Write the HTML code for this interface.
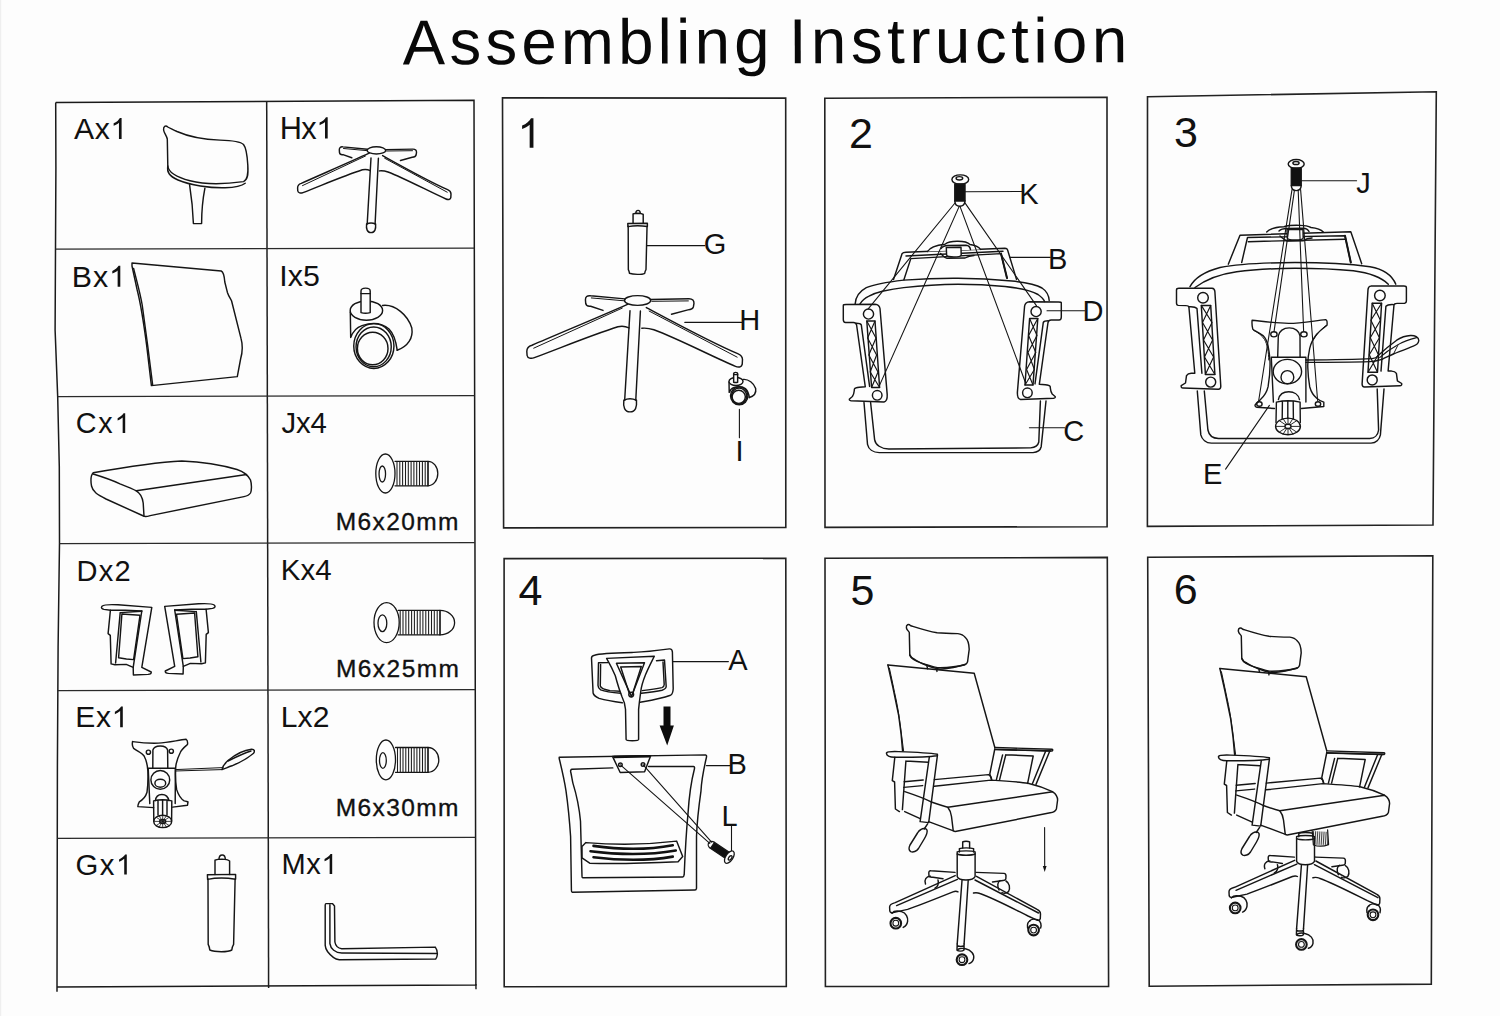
<!DOCTYPE html>
<html><head><meta charset="utf-8"><style>
html,body{margin:0;padding:0;background:#fdfdfd;}
svg .ns *{vector-effect:non-scaling-stroke;}
svg{display:block;font-family:"Liberation Sans",sans-serif;font-kerning:none;}
</style></head><body>
<svg width="1500" height="1016" viewBox="0 0 1500 1016">
<rect width="1500" height="1016" fill="#fdfdfd"/>
<rect x="0" y="0" width="1.2" height="1016" fill="#efefef"/>
<g font-size="63.50" fill="#080808" transform="rotate(-0.2 402.9 64.5)"><text x="402.78" y="64.50">A</text><text x="449.42" y="64.50">s</text><text x="485.46" y="64.50">s</text><text x="521.49" y="64.50">e</text><text x="561.10" y="64.50">m</text><text x="618.28" y="64.50">b</text><text x="657.88" y="64.50">l</text><text x="676.28" y="64.50">i</text><text x="694.67" y="64.50">n</text><text x="734.28" y="64.50">g</text></g>
<g font-size="63.50" fill="#080808" transform="rotate(-0.2 794.8 63.3)"><text x="788.94" y="63.30">I</text><text x="811.12" y="63.30">n</text><text x="850.97" y="63.30">s</text><text x="887.25" y="63.30">t</text><text x="909.43" y="63.30">r</text><text x="935.11" y="63.30">u</text><text x="974.96" y="63.30">c</text><text x="1011.24" y="63.30">t</text><text x="1033.42" y="63.30">i</text><text x="1052.06" y="63.30">o</text><text x="1091.91" y="63.30">n</text></g>
<path d="M55.7,102.5 L474,100.3 L475.9,985.1 L57,986.9" fill="none" stroke="#1a1a1a" stroke-width="1.5" stroke-linejoin="miter"/>
<path d="M55.7,102.5 L55.9,167 L55.1,330 L57.7,397 L59.3,467 L59.5,543 L58.1,647 L57.4,767 L57,991.7" fill="none" stroke="#1a1a1a" stroke-width="1.5" stroke-linejoin="miter"/>
<line x1="475.9" y1="984" x2="476" y2="989.2" stroke="#1a1a1a" stroke-width="1.4"/>
<line x1="266.7" y1="101.4" x2="268.6" y2="988" stroke="#1e1e1e" stroke-width="1.5"/>
<line x1="55.5" y1="249.1" x2="474.3" y2="248.0" stroke="#2a2a2a" stroke-width="1.25"/>
<line x1="57.7" y1="396.5" x2="474.6" y2="395.5" stroke="#2a2a2a" stroke-width="1.25"/>
<line x1="59.5" y1="543.7" x2="474.9" y2="542.5" stroke="#2a2a2a" stroke-width="1.25"/>
<line x1="57.8" y1="690.7" x2="475.3" y2="689.5" stroke="#2a2a2a" stroke-width="1.25"/>
<line x1="57.3" y1="838.3" x2="475.6" y2="837.3" stroke="#2a2a2a" stroke-width="1.25"/>
<path d="M502.5,97.9 L785.7,98.1 L785.8,527.4 L503.6,527.9 Z" fill="none" stroke="#222" stroke-width="1.6" stroke-linejoin="miter"/>
<path d="M824.8,98.3 L1107,97.2 L1107.1,526.7 L825,527.4 Z" fill="none" stroke="#222" stroke-width="1.6" stroke-linejoin="miter"/>
<path d="M1147.5,96.7 L1436.3,91.7 L1433,525 L1147.4,526.4 Z" fill="none" stroke="#222" stroke-width="1.6" stroke-linejoin="miter"/>
<path d="M504.1,558.6 L785.8,558.3 L786.3,986.5 L504.2,986.7 Z" fill="none" stroke="#222" stroke-width="1.6" stroke-linejoin="miter"/>
<path d="M825,558.3 L1107.3,557.4 L1108.6,986.4 L825.4,986.5 Z" fill="none" stroke="#222" stroke-width="1.6" stroke-linejoin="miter"/>
<path d="M1147.7,557.2 L1432.8,555.8 L1431.3,984.1 L1149.2,986.2 Z" fill="none" stroke="#222" stroke-width="1.6" stroke-linejoin="miter"/>
<g font-size="30.21" fill="#111"><text x="74.04" y="138.90">A</text><text x="94.72" y="138.90">x</text><path d="M763 0H583V1147Q518 1085 412 1023Q306 961 223 930V1104Q374 1175 487 1276Q600 1377 647 1472H763Z" transform="translate(110.35,138.90) scale(0.01475,-0.01412)"/></g>
<g font-size="30.78" fill="#111"><text x="279.67" y="138.50">H</text><text x="301.37" y="138.50">x</text><path d="M763 0H583V1147Q518 1085 412 1023Q306 961 223 930V1104Q374 1175 487 1276Q600 1377 647 1472H763Z" transform="translate(316.23,138.50) scale(0.01503,-0.01438)"/></g>
<g font-size="30.35" fill="#111"><text x="71.81" y="286.70">B</text><text x="92.94" y="286.70">x</text><path d="M763 0H583V1147Q518 1085 412 1023Q306 961 223 930V1104Q374 1175 487 1276Q600 1377 647 1472H763Z" transform="translate(108.99,286.70) scale(0.01482,-0.01418)"/></g>
<g font-size="30.35" fill="#111"><text x="279.20" y="286.20">I</text><text x="287.73" y="286.20">x</text><text x="302.99" y="286.20">5</text></g>
<g font-size="28.78" fill="#111"><text x="75.84" y="433.00">C</text><text x="98.36" y="433.00">x</text><path d="M763 0H583V1147Q518 1085 412 1023Q306 961 223 930V1104Q374 1175 487 1276Q600 1377 647 1472H763Z" transform="translate(114.48,433.00) scale(0.01405,-0.01345)"/></g>
<g font-size="29.35" fill="#111"><text x="281.54" y="432.50">J</text><text x="295.99" y="432.50">x</text><text x="310.44" y="432.50">4</text></g>
<g font-size="29.06" fill="#111"><text x="76.62" y="580.50">D</text><text x="98.74" y="580.50">x</text><text x="114.40" y="580.50">2</text></g>
<g font-size="29.49" fill="#111"><text x="280.78" y="579.80">K</text><text x="300.48" y="579.80">x</text><text x="315.26" y="579.80">4</text></g>
<g font-size="30.07" fill="#111"><text x="75.13" y="727.20">E</text><text x="95.88" y="727.20">x</text><path d="M763 0H583V1147Q518 1085 412 1023Q306 961 223 930V1104Q374 1175 487 1276Q600 1377 647 1472H763Z" transform="translate(111.60,727.20) scale(0.01468,-0.01405)"/></g>
<g font-size="30.07" fill="#111"><text x="280.73" y="726.50">L</text><text x="297.61" y="726.50">x</text><text x="312.79" y="726.50">2</text></g>
<g font-size="29.35" fill="#111"><text x="75.62" y="874.60">G</text><text x="99.82" y="874.60">x</text><path d="M763 0H583V1147Q518 1085 412 1023Q306 961 223 930V1104Q374 1175 487 1276Q600 1377 647 1472H763Z" transform="translate(115.87,874.60) scale(0.01433,-0.01371)"/></g>
<g font-size="29.06" fill="#111"><text x="281.52" y="873.90">M</text><text x="306.28" y="873.90">x</text><path d="M763 0H583V1147Q518 1085 412 1023Q306 961 223 930V1104Q374 1175 487 1276Q600 1377 647 1472H763Z" transform="translate(321.37,873.90) scale(0.01419,-0.01358)"/></g>
<g font-size="24.50" fill="#111" stroke="#111" stroke-width="0.35"><text x="335.69" y="529.50">M</text><text x="357.51" y="529.50">6</text><text x="372.55" y="529.50">x</text><text x="386.21" y="529.50">2</text><text x="401.25" y="529.50">0</text><text x="416.29" y="529.50">m</text><text x="438.11" y="529.50">m</text></g>
<g font-size="24.50" fill="#111" stroke="#111" stroke-width="0.35"><text x="335.89" y="676.60">M</text><text x="357.76" y="676.60">6</text><text x="372.85" y="676.60">x</text><text x="386.56" y="676.60">2</text><text x="401.65" y="676.60">5</text><text x="416.74" y="676.60">m</text><text x="438.61" y="676.60">m</text></g>
<g font-size="24.50" fill="#111" stroke="#111" stroke-width="0.35"><text x="335.69" y="816.40">M</text><text x="357.51" y="816.40">6</text><text x="372.55" y="816.40">x</text><text x="386.21" y="816.40">3</text><text x="401.25" y="816.40">0</text><text x="416.29" y="816.40">m</text><text x="438.11" y="816.40">m</text></g>
<g font-size="43.00" fill="#111"><path d="M763 0H583V1147Q518 1085 412 1023Q306 961 223 930V1104Q374 1175 487 1276Q600 1377 647 1472H763Z" transform="translate(517.42,147.80) scale(0.02100,-0.02009)"/></g>
<g font-size="43.00" fill="#111"><text x="849.04" y="148.20">2</text></g>
<g font-size="43.00" fill="#111"><text x="1173.96" y="146.80">3</text></g>
<g font-size="43.00" fill="#111"><text x="518.61" y="605.40">4</text></g>
<g font-size="43.00" fill="#111"><text x="850.38" y="605.20">5</text></g>
<g font-size="43.00" fill="#111"><text x="1173.82" y="604.40">6</text></g>
<g font-size="29.00" fill="#111"><text x="703.84" y="254.40">G</text></g>
<g font-size="29.00" fill="#111"><text x="739.22" y="330.40">H</text></g>
<g font-size="29.00" fill="#111"><text x="735.52" y="461.00">I</text></g>
<g font-size="29.00" fill="#111"><text x="1019.22" y="204.00">K</text></g>
<g font-size="29.00" fill="#111"><text x="1047.92" y="269.20">B</text></g>
<g font-size="29.00" fill="#111"><text x="1082.62" y="321.20">D</text></g>
<g font-size="29.00" fill="#111"><text x="1063.33" y="440.60">C</text></g>
<g font-size="29.00" fill="#111"><text x="1356.25" y="192.50">J</text></g>
<g font-size="29.00" fill="#111"><text x="1203.12" y="484.00">E</text></g>
<g font-size="29.00" fill="#111"><text x="728.34" y="670.20">A</text></g>
<g font-size="29.00" fill="#111"><text x="727.42" y="774.20">B</text></g>
<g font-size="29.00" fill="#111"><text x="721.62" y="825.50">L</text></g>
<g stroke="#151515" fill="none" stroke-linejoin="round" stroke-linecap="round" stroke-width="1.45"><path d="M167.8,127 C165.5,124.8 163.2,126.5 163.6,130 C164,133 166.5,135.5 167.3,139 L167.8,166 C168.3,172.5 178,177.5 190,180.8 C205,184.6 225,184.2 243.5,181.6 C247.6,180 248.4,175 247.8,165 C247.2,155 246,147.5 243.5,144.5 C240,141 230,140.4 220,140.1 C200,139.4 186,135.5 177,131.5 C172,129 169.5,128 167.8,127 Z"/>
<path d="M167.8,166 C166.8,172 169,176 178,180 C190,185.2 210,188.2 225,187.8 C235,187.4 242,185.8 245.2,183.2"/>
<path d="M189.6,184.8 C192,200 193,212 193.4,223.6 L201.6,223.6 C201.6,210 203,198 204.9,188.2"/></g>
<g stroke="#151515" fill="none" stroke-linejoin="round" stroke-linecap="round" stroke-width="1.45"><ellipse cx="376.4" cy="150.4" rx="9.3" ry="3.6"/>
<path d="M367.3,149.2 L343,146.9 C340.4,146.5 339.3,147.8 339.3,149.8 L339.5,152.6 C339.8,154.4 341.4,154.8 343,154.6 L351.8,157.7"/>
<path d="M385.6,149.6 L413,149.1 C415.5,149.1 416.6,150.6 416.5,152.6 L416.1,155 C415.7,156.6 414.2,157.1 412.2,157.3 L400.5,160.5"/>
<path d="M369.2,153.2 C350,162 320,175 301.3,183.4 C298.4,184.2 297.6,186 297.6,188 L297.8,191 C298.1,193 300.6,193.6 303,192.6 C325,184 345,175.5 362.4,169.8 C365.4,169 368.2,169.6 370.3,170.6"/>
<path d="M382.6,155.6 C405,168 430,182 447.6,189.6 C450,190.6 451,192 451,194 L450.8,197.6 C450.5,199.6 448,200 446,199 C430,192 405,178.5 388,172 C385,171 382.2,170.6 379.4,170.9"/>
<path d="M371,158 L367.2,224 M378.4,158.2 L375.1,224"/>
<path d="M365.5,156 L302.5,185.6 M384.6,158.2 L447.2,192.2 M366.6,150.6 L343.5,148.5 M386.5,151 L412.5,150.7" stroke-width="1"/>
<path d="M366.6,224 C366,229 367.2,232.6 371,232.6 C375,232.6 376,229 375.6,224 C373,222.8 369,222.8 366.6,224 Z"/></g>
<g stroke="#151515" fill="none" stroke-linejoin="round" stroke-linecap="round" stroke-width="1.45"><path d="M132,263 L221.2,271 C223,271.8 224.2,274 224.8,282 L227.4,292.4 C229,297 231,299 231.6,301 L241,338.4 C242.6,344 242.6,352 240.6,359 L237.3,376.6 L151.4,385.6 L146.6,345 C144,325 141,305 137.2,290 L132,266 Z"/>
<path d="M133.6,268.4 C136.4,280 140,292 142.2,305 L147.6,345 L152.6,384.6"/></g>
<g stroke="#151515" fill="none" stroke-linejoin="round" stroke-linecap="round" stroke-width="1.45"><path d="M382.5,305.5 C395,304 408,315 411.8,328 C413.4,338 408,346.5 397.2,350.2"/>
<path d="M350.3,312 L350.7,337.6 C353,331 357,327.2 362,325.6 C372,322.2 382,323 389,329 C394,334 396,341 397.2,350.2"/>
<ellipse cx="366.4" cy="310.6" rx="16.2" ry="9.7" fill="#fdfdfd"/>
<path d="M361,312.6 L361,291 C361,288.6 363,288.1 365.6,288.1 C368.2,288.1 370.2,288.6 370.2,291 L370.2,312.6 C367,313.6 364,313.6 361,312.6 Z" fill="#fdfdfd"/>
<path d="M361,293.6 L370.2,293.6"/>
<ellipse cx="373.85" cy="346" rx="20.1" ry="22.4"/>
<ellipse cx="373.65" cy="346.8" rx="17.6" ry="19.9"/>
<ellipse cx="372.7" cy="348.55" rx="15.3" ry="16.25"/></g>
<g stroke="#151515" fill="none" stroke-linejoin="round" stroke-linecap="round" stroke-width="1.45"><path d="M93.2,472.8 C120,468 160,462 181.8,461 C205,462 225,466 237,469.5 C243,471.5 248,475 250.5,480 C252,485 251.5,491 250.5,493 C249,495.5 247,496 244,496.6 L150.2,515.6 C147,516.6 145,517 143.5,516 L106,499 C97,494.5 93,492 91.5,486 C90.5,480 91,475 93.2,472.8 Z"/>
<path d="M93.2,474 C103,477 112,480.2 120,483.8 C127,486.6 133,489 136.3,490.8 L246.6,474.5"/>
<path d="M136.3,490.8 C140,493 142.6,498 143.2,503 L144,516.2"/></g>
<g stroke="#151515" fill="none" stroke-linejoin="round" stroke-linecap="round" stroke-width="1.45"><path d="M102,606.2 C104,604.6 112,604.5 118,604.8 L151.8,607.4 L141.8,667.4 L151.2,672 C151.6,673.4 150.6,674.2 148,674.4 L133.4,675 L133.2,667.4 L126.2,664.4 L114.9,664.8 L111.1,663.9 L110.3,635.4 L108.1,633.6 L110.4,610.2 L104,609.4 C101.6,609 100.8,607.6 102,606.2 Z"/>
<path d="M110.4,610.2 L125.3,610.3 L141.8,611"/>
<path d="M120.2,612.6 L141.6,611.2 M120.2,612.6 L115.6,663 M121.9,614 L140,615.3 L133.6,659.6 L126.4,659 L118.6,657.8 L121.9,614 Z"/>
<path d="M141.8,611 L133.2,667.4"/></g>
<g stroke="#151515" fill="none" stroke-linejoin="round" stroke-linecap="round" stroke-width="1.45" transform="translate(316.5,-1) scale(-1,1)"><path d="M102,606.2 C104,604.6 112,604.5 118,604.8 L151.8,607.4 L141.8,667.4 L151.2,672 C151.6,673.4 150.6,674.2 148,674.4 L133.4,675 L133.2,667.4 L126.2,664.4 L114.9,664.8 L111.1,663.9 L110.3,635.4 L108.1,633.6 L110.4,610.2 L104,609.4 C101.6,609 100.8,607.6 102,606.2 Z"/>
<path d="M110.4,610.2 L125.3,610.3 L141.8,611"/>
<path d="M120.2,612.6 L141.6,611.2 M120.2,612.6 L115.6,663 M121.9,614 L140,615.3 L133.6,659.6 L126.4,659 L118.6,657.8 L121.9,614 Z"/>
<path d="M141.8,611 L133.2,667.4"/></g>
<g stroke="#151515" fill="none" stroke-linejoin="round" stroke-linecap="round" stroke-width="1.45"><path d="M132.6,741.6 C140,742.6 150,743.4 158.4,743.1 C168,742.6 178,740.2 186.1,739.3 C187.6,740.5 187.8,742.5 187.5,744.5 C184,747.5 181.5,749.5 180.4,752.2 C177.5,758 175.8,763 175.6,768.4 C175.2,776 175.6,783 176.6,789.4 C178.4,795 181,799 184.2,800.9 C186,801.4 187.5,801.6 188,801.8 L187.5,805.2 L172.7,807.1"/>
<path d="M132.6,741.6 C132,744 132.4,746.5 133.6,748.4 C138,751.5 142,753 144.1,756 C146.5,760.5 147.6,766 147.9,771.3 C148.2,780 147.8,786.5 147,792.3 C145.6,797 142.6,800 139.3,801.8 C138.4,803.5 137.8,805 137.9,806.6 L153.6,807.6"/>
<path d="M152.8,768.2 L152.9,750 C153.5,747.3 156.5,745.9 160.3,745.9 C164.2,745.9 167,747.3 167.6,750 L167.8,768.2"/>
<circle cx="148.4" cy="752.2" r="2.1"/><circle cx="171.3" cy="751.2" r="2.1"/>
<path d="M148.2,768.2 L175.4,768.2 L175.2,803.6 M148.2,768.2 L149.8,803.6"/>
<circle cx="160.3" cy="779.9" r="9.4"/>
<ellipse cx="160.3" cy="783.2" rx="5.4" ry="4"/>
<path d="M155.5,800.6 C155.8,796.8 158,794.4 161.9,794.4 C165.6,794.4 168.2,796.8 168.8,800.6"/>
<path d="M153.6,800.9 L153.8,820.6 M171.8,800.9 L171.6,820.6 M153.6,800.9 C159,799.4 166,799.4 171.8,800.9 M158,801 L158,815 M162.6,800.6 L162.6,815 M167,801 L167,815"/>
<ellipse cx="162.7" cy="821.4" rx="9" ry="6.2"/>
<path d="M162.7,815.8 L162.7,827 M154.4,821.4 L171,821.4 M156.4,817.4 L169,825.4 M156.4,825.4 L169,817.4 M159,815.8 L166.4,827 M159,827 L166.4,815.8" stroke-width="0.8"/>
<ellipse cx="162.7" cy="821.4" rx="3" ry="2"/>
<path d="M175.4,769.6 L223,767.6 M175.4,771 L222,769.6" stroke-width="1"/>
<path d="M222,769.6 C222.5,767 224,764 228,760.5 C236,754 245,750 251.5,749.3 C254.5,749.2 255,751 253.6,753.2 C248,758 240,762.5 232,765.8 C228,767.2 225,768.6 222,769.6 Z"/>
<path d="M228,761 C235,757.5 243,753.5 251,751"/></g>
<g stroke="#151515" fill="none" stroke-linejoin="round" stroke-linecap="round" stroke-width="1.45"><path d="M219,859.3 C219,856.3 220.5,854.9 222.2,854.9 C224,854.9 225.3,856.3 225.3,859.3"/>
<path d="M215,874.4 L215,860.2 C217,859.2 219,859.1 222,859.1 C226,859.2 228,859.6 229.6,861 L229.6,874.4"/>
<path d="M207.4,874.8 L235.6,874.4 L235.6,879 M207.4,874.8 L207.6,879.4 C216,877.6 226,877.6 235.6,879.2"/>
<path d="M208,879 L208.2,944.4 C209,946 209.6,947.4 209.8,950 C215,952.2 228,952.2 231.8,950 C232,947.6 232.6,946 233.6,944.4 L235.1,879.2"/></g>
<g stroke="#151515" fill="none" stroke-linejoin="round" stroke-linecap="round" stroke-width="1.3"><path d="M395,461.3 L428,461.3 A9.800000000000011,12.25 0 0 1 428,485.8 L395,485.8"/>
<path d="M397.0,461.9 L397.0,485.2 M399.8,461.9 L399.8,485.2 M402.6,461.9 L402.6,485.2 M405.5,461.9 L405.5,485.2 M408.3,461.9 L408.3,485.2 M411.1,461.9 L411.1,485.2 M413.9,461.9 L413.9,485.2 M416.7,461.9 L416.7,485.2 M419.5,461.9 L419.5,485.2 M422.4,461.9 L422.4,485.2 M425.2,461.9 L425.2,485.2 M428.0,461.9 L428.0,485.2 " stroke-width="1.05" stroke="#1c1c1c"/>
<path d="M428,461.3 L428,485.8" />
<ellipse cx="385.4" cy="473.5" rx="9.6" ry="19.5" fill="#fdfdfd"/>
<ellipse cx="382.3" cy="474" rx="3.25" ry="8"/></g>
<g stroke="#151515" fill="none" stroke-linejoin="round" stroke-linecap="round" stroke-width="1.3"><path d="M398.2,610.4 L440,610.4 A14.600000000000023,12.25 0 0 1 440,634.9 L398.2,634.9"/>
<path d="M400.2,611.0 L400.2,634.3 M403.0,611.0 L403.0,634.3 M405.9,611.0 L405.9,634.3 M408.7,611.0 L408.7,634.3 M411.6,611.0 L411.6,634.3 M414.4,611.0 L414.4,634.3 M417.3,611.0 L417.3,634.3 M420.1,611.0 L420.1,634.3 M422.9,611.0 L422.9,634.3 M425.8,611.0 L425.8,634.3 M428.6,611.0 L428.6,634.3 M431.5,611.0 L431.5,634.3 M434.3,611.0 L434.3,634.3 M437.2,611.0 L437.2,634.3 M440.0,611.0 L440.0,634.3 " stroke-width="1.05" stroke="#1c1c1c"/>
<path d="M440,610.4 L440,634.9" />
<ellipse cx="386.6" cy="622.6" rx="12.6" ry="20" fill="#fdfdfd"/>
<ellipse cx="382.4" cy="623.2" rx="4.4" ry="8.4"/></g>
<g stroke="#151515" fill="none" stroke-linejoin="round" stroke-linecap="round" stroke-width="1.3"><path d="M395.5,747.5 L428,747.5 A10.800000000000011,12.399999999999977 0 0 1 428,772.3 L395.5,772.3"/>
<path d="M397.5,748.1 L397.5,771.7 M400.3,748.1 L400.3,771.7 M403.0,748.1 L403.0,771.7 M405.8,748.1 L405.8,771.7 M408.6,748.1 L408.6,771.7 M411.4,748.1 L411.4,771.7 M414.1,748.1 L414.1,771.7 M416.9,748.1 L416.9,771.7 M419.7,748.1 L419.7,771.7 M422.5,748.1 L422.5,771.7 M425.2,748.1 L425.2,771.7 M428.0,748.1 L428.0,771.7 " stroke-width="1.05" stroke="#1c1c1c"/>
<path d="M428,747.5 L428,772.3" />
<ellipse cx="385.9" cy="759.9" rx="9.6" ry="19.9" fill="#fdfdfd"/>
<ellipse cx="382.9" cy="760.5" rx="3.4" ry="7.8"/></g>
<g stroke="#151515" fill="none" stroke-linejoin="round" stroke-linecap="round" stroke-width="1.45"><path d="M326,903.6 L332.4,903.6 L334.5,906 L334.9,942 C335.5,945.5 338,948.3 341.7,948.8 L435.3,947.1 C436.8,949 437.5,951 437.4,954 C437.2,956.5 436.6,958 435.7,959 L339.2,959.8 C334,959 330.5,955.5 327.5,951.5 C325.8,949 325.3,947 325.2,945.4 L325.2,905 C325.3,904 325.6,903.6 326,903.6 Z"/>
<path d="M329.9,904.8 L329.9,943.7 C330.5,948.8 335.5,953 341.7,953 L436.5,953.4"/></g>
<g stroke="#151515" fill="none" stroke-linejoin="round" stroke-linecap="round" stroke-width="1.45" transform="translate(628.2,210.4) scale(0.695,0.661) translate(-208,-854.9)" class="ns"><path d="M219,859.3 C219,856.3 220.5,854.9 222.2,854.9 C224,854.9 225.3,856.3 225.3,859.3"/>
<path d="M215,874.4 L215,860.2 C217,859.2 219,859.1 222,859.1 C226,859.2 228,859.6 229.6,861 L229.6,874.4"/>
<path d="M207.4,874.8 L235.6,874.4 L235.6,879 M207.4,874.8 L207.6,879.4 C216,877.6 226,877.6 235.6,879.2"/>
<path d="M208,879 L208.2,944.4 C209,946 209.6,947.4 209.8,950 C215,952.2 228,952.2 231.8,950 C232,947.6 232.6,946 233.6,944.4 L235.1,879.2"/></g>
<g stroke="#151515" fill="none" stroke-linejoin="round" stroke-linecap="round" stroke-width="1.45" transform="translate(637.6,300.5) scale(1.406,1.355) translate(-376.4,-150.4)" class="ns"><ellipse cx="376.4" cy="150.4" rx="9.3" ry="3.6"/>
<path d="M367.3,149.2 L343,146.9 C340.4,146.5 339.3,147.8 339.3,149.8 L339.5,152.6 C339.8,154.4 341.4,154.8 343,154.6 L351.8,157.7"/>
<path d="M385.6,149.6 L413,149.1 C415.5,149.1 416.6,150.6 416.5,152.6 L416.1,155 C415.7,156.6 414.2,157.1 412.2,157.3 L400.5,160.5"/>
<path d="M369.2,153.2 C350,162 320,175 301.3,183.4 C298.4,184.2 297.6,186 297.6,188 L297.8,191 C298.1,193 300.6,193.6 303,192.6 C325,184 345,175.5 362.4,169.8 C365.4,169 368.2,169.6 370.3,170.6"/>
<path d="M382.6,155.6 C405,168 430,182 447.6,189.6 C450,190.6 451,192 451,194 L450.8,197.6 C450.5,199.6 448,200 446,199 C430,192 405,178.5 388,172 C385,171 382.2,170.6 379.4,170.9"/>
<path d="M371,158 L367.2,224 M378.4,158.2 L375.1,224"/>
<path d="M365.5,156 L302.5,185.6 M384.6,158.2 L447.2,192.2 M366.6,150.6 L343.5,148.5 M386.5,151 L412.5,150.7" stroke-width="1"/>
<path d="M366.6,224 C366,229 367.2,232.6 371,232.6 C375,232.6 376,229 375.6,224 C373,222.8 369,222.8 366.6,224 Z"/></g>
<g stroke="#151515" fill="none" stroke-linejoin="round" stroke-linecap="round" stroke-width="1.45" transform="translate(728.9,372.4) scale(0.433,0.404) translate(-350,-288.1)" class="ns"><path d="M382.5,305.5 C395,304 408,315 411.8,328 C413.4,338 408,346.5 397.2,350.2"/>
<path d="M350.3,312 L350.7,337.6 C353,331 357,327.2 362,325.6 C372,322.2 382,323 389,329 C394,334 396,341 397.2,350.2"/>
<ellipse cx="366.4" cy="310.6" rx="16.2" ry="9.7" fill="#fdfdfd"/>
<path d="M361,312.6 L361,291 C361,288.6 363,288.1 365.6,288.1 C368.2,288.1 370.2,288.6 370.2,291 L370.2,312.6 C367,313.6 364,313.6 361,312.6 Z" fill="#fdfdfd"/>
<path d="M361,293.6 L370.2,293.6"/>
<ellipse cx="373.85" cy="346" rx="20.1" ry="22.4"/>
<ellipse cx="373.65" cy="346.8" rx="17.6" ry="19.9"/>
<ellipse cx="372.7" cy="348.55" rx="15.3" ry="16.25"/></g>
<g stroke="#151515" fill="none" stroke-linejoin="round" stroke-linecap="round" stroke-width="1.1"><path d="M646.6,245.6 L704.8,245.6 M684.8,322.4 L741.6,322.4 M739.4,409.3 L739.4,437.8"/></g>
<g stroke="#151515" fill="none" stroke-linejoin="round" stroke-linecap="round" stroke-width="1.45"><path d="M855.1,304.2 C855.5,297 859,291.5 866.3,287.6 C875,284 888,282 903.7,280.1 C925,278.6 945,278.2 958,278.3 C975,278.4 995,279.4 1012,281 C1025,282.4 1036,284.5 1042,288 C1046.5,291 1048.8,295 1049.2,300.5"/>
<path d="M859.9,304.2 C862,300.5 865,297.8 869,296.1 C873,294 877,292.6 882.3,291.3 C890,289.6 896,288.5 903.7,287.6 C920,285.8 940,284.4 958,284.2 C975,284.2 990,285 1005,286.5 C1020,288.2 1032,291 1038,294.5 C1041.5,297 1043.6,299 1044.6,301.5"/>
<path d="M864,402.5 L867.5,444.3 C868.5,449 873,452.4 879.3,452.6 L1033,452.6 C1037.5,452.2 1040.5,449.5 1041.2,446.7 L1046,401"/>
<path d="M870.6,402.5 L874.6,439.6 C875.5,445 881,448.8 888.8,449 L1030.6,447.9 C1035,447.5 1038,445.5 1038.8,442 L1040.4,401"/></g>
<g stroke="#151515" fill="none" stroke-linejoin="round" stroke-linecap="round" stroke-width="1.45"><path d="M893.5,279.4 L902.1,253.6 C902.8,252.6 904,252.3 906,252.2 L1005,248.3 C1006.4,248.3 1007.3,249 1007.6,250 L1016.5,279.4"/>
<path d="M903.9,279.8 L910.8,258.6 L1001,253.6 L1007,278.1"/>
<path d="M906,256 L1003,251.3"/>
<path d="M1001,253.6 L1007,278.1" stroke-width="2"/>
<path d="M927.5,251.5 C930,247 938,245 945,244.2 C948,241.8 953,241.2 958,241.3 C964,241.3 968,242.5 970,244.5 C975,245.2 979,247 980.5,249.5" fill="#fdfdfd"/>
<path d="M941,248.5 C943,246 945.5,245.5 948,245.5 L966,245.3 C968.5,245.5 970,247 970.5,249.5"/>
<path d="M946.3,247.5 L961,247.2 L961.2,255 C961,256.5 959,257 954,257 C949,257 947,256.5 946.6,255 Z" fill="#fdfdfd"/>
<path d="M940.5,253.5 C943,255.5 944.5,257.8 947,258.3 L965,258 C967.5,256.5 970,255.6 974,255.5"/></g>
<g stroke="#151515" fill="none" stroke-linejoin="round" stroke-linecap="round" stroke-width="1.45"><path d="M843.3,306 C843,304.8 844,304.4 846,304.4 L875,304.2 C878,304.4 879.6,306 880,308.5 L887.2,394.6 C887.4,398.5 886.5,401.5 884,402 L851,400.8 C849.5,400.6 849,399.8 849.5,399 L852.4,396.5 C853.5,395 854,393 854.2,391 L854.4,389 C855,388 857,387.5 859.3,387.3 L865.3,386.8 L856.6,325 C856.2,323.2 855,322.4 853.5,322.4 L845.5,322.4 C844,322.4 843.3,321 843.3,319.5 Z"/>
<path d="M856.4,323.2 C858.5,323.2 860.6,323.6 861.3,324.8 L869.6,386.4"/>
<path d="M866.8,321 L875,321 L879.6,387.5 L871.6,387.5 Z"/>
<path d="M866.8,321 L876,338 L868.8,355 L878,372 L871.6,387.5 M875,321 L867.6,338 L876.6,355 L870.2,372 L879.6,387.5" stroke-width="1.15"/>
<circle cx="868.5" cy="314" r="5.1"/><circle cx="877.2" cy="395.3" r="4.8"/></g>
<g stroke="#151515" fill="none" stroke-linejoin="round" stroke-linecap="round" stroke-width="1.45" transform="translate(1904.6,-2.5) scale(-1,1)"><path d="M843.3,306 C843,304.8 844,304.4 846,304.4 L875,304.2 C878,304.4 879.6,306 880,308.5 L887.2,394.6 C887.4,398.5 886.5,401.5 884,402 L851,400.8 C849.5,400.6 849,399.8 849.5,399 L852.4,396.5 C853.5,395 854,393 854.2,391 L854.4,389 C855,388 857,387.5 859.3,387.3 L865.3,386.8 L856.6,325 C856.2,323.2 855,322.4 853.5,322.4 L845.5,322.4 C844,322.4 843.3,321 843.3,319.5 Z"/>
<path d="M856.4,323.2 C858.5,323.2 860.6,323.6 861.3,324.8 L869.6,386.4"/>
<path d="M866.8,321 L875,321 L879.6,387.5 L871.6,387.5 Z"/>
<path d="M866.8,321 L876,338 L868.8,355 L878,372 L871.6,387.5 M875,321 L867.6,338 L876.6,355 L870.2,372 L879.6,387.5" stroke-width="1.15"/>
<circle cx="868.5" cy="314" r="5.1"/><circle cx="877.2" cy="395.3" r="4.8"/></g>
<g stroke="#151515" fill="none" stroke-linejoin="round" stroke-linecap="round" stroke-width="1.45"><ellipse cx="960.3" cy="179.5" rx="8.4" ry="4.65"/><ellipse cx="959.4" cy="178.3" rx="3.3" ry="1.7"/>
<path d="M954.8,184 L965,184 L965,201 L954.8,201 Z" fill="#111"/>
<path d="M954.8,201 C955,204.5 957,206.3 959.8,206.3 C962.4,206.3 964.6,204.5 965,201"/></g>
<g stroke="#151515" fill="none" stroke-linejoin="round" stroke-linecap="round" stroke-width="1.1"><path d="M955,203 L868.2,308.8 M959.2,206.4 L879.4,385.6 M960,206.4 L1025.6,383 M964.6,202.4 L1036.4,305.6"/>
<path d="M965,191.7 L1021.6,191.5 M1010,257.4 L1050.2,257.4 M1047,310.8 L1084.6,310.8 M1029.4,427.8 L1064.6,427.8"/></g>
<g stroke="#151515" fill="none" stroke-linejoin="round" stroke-linecap="round" stroke-width="1.45"><path d="M1190,286.7 C1195,277 1207,271 1220,267.5 C1240,263.5 1270,262.6 1295,262.5 C1320,262.5 1350,264 1370,266.7 C1383,269 1392,275 1395.8,284.2"/>
<path d="M1195,287.5 C1205,280 1220,274 1236.7,271.7 C1255,269.3 1275,268.4 1295,268.3 C1320,268.3 1340,269.5 1353.3,270.8 C1370,273 1382,278 1388.3,284.2"/>
<path d="M1197.3,391 L1200.8,434.9 C1202,439.5 1206,443 1211.4,443.1 L1371,443.1 C1376,443 1379.5,439.5 1380.4,434.9 L1384,389"/>
<path d="M1204.3,391 L1207.9,430 C1209,435.5 1213,438.4 1218.5,438.4 L1369.8,438.4 C1374.5,438.4 1378,435 1378.6,430 L1377.2,389"/>
<path d="M1228.3,264.2 L1240,235.3 L1350.8,231.7 L1361.7,263.7"/>
<path d="M1241.7,262.5 L1247.5,237.5 L1345,235.8 L1350.8,262.5"/>
<path d="M1345,235.8 L1350.8,262.5" stroke-width="2"/>
<path d="M1248.3,241.7 L1345,239.2"/>
<path d="M1266.7,232 C1270,228.5 1278,227 1284,226.8 C1288,225.5 1294,225.2 1300,225.4 C1306,225.5 1309,226.5 1311,227.5 C1316,228 1321,229.5 1323.3,232" fill="#fdfdfd"/>
<path d="M1279,231 C1281,229 1284,228.5 1287,228.5 L1303,228.3 C1306,228.5 1308,229.5 1309,231.5"/>
<path d="M1287,229.5 L1303,229.2 L1303.2,238 C1303,239.5 1300,240 1295,240 C1290,240 1287.5,239.5 1287.3,238 Z" fill="#fdfdfd"/>
<path d="M1280,236 C1282.5,238 1284.5,240.5 1287.5,241 L1303,240.8 C1305.5,239 1308,238 1312,238"/></g>
<g stroke="#151515" fill="none" stroke-linejoin="round" stroke-linecap="round" stroke-width="1.45"><path d="M1176.5,290 C1176.5,288.8 1177.5,288.3 1179,288.3 L1212,288.3 C1213.8,288.4 1214.8,289.8 1214.9,291.8 L1220.8,386.3 C1220.8,388.2 1219.8,389.2 1218.4,389.2 L1183,388 C1181.5,388 1181,387 1181.2,385.7 L1185.5,383 L1186.5,375.6 C1187.5,374 1189,373.4 1191.3,373.3 L1194.8,373.3 L1188.9,307 C1188.6,306 1187.5,305.6 1186.5,305.6 L1178.3,305.4 C1177,305.3 1176.5,304.5 1176.5,303 Z"/>
<path d="M1189,306.8 C1192,306.6 1195.5,306.8 1197,308.5 L1201.9,373.3"/>
<path d="M1201.3,305.4 L1210.7,305.4 L1214.9,374.5 L1205.4,374.5 Z"/>
<path d="M1201.3,305.4 L1212,322.5 L1203.5,340 L1213.6,357 L1205.4,374.5 M1210.7,305.4 L1202.5,322.5 L1212.6,340 L1204.5,357 L1214.9,374.5" stroke-width="1.15"/>
<circle cx="1203" cy="297.7" r="5.3"/><circle cx="1210.7" cy="382.1" r="5"/></g>
<g stroke="#151515" fill="none" stroke-linejoin="round" stroke-linecap="round" stroke-width="1.45" transform="translate(2582.9,-2.2) scale(-1,1)"><path d="M1176.5,290 C1176.5,288.8 1177.5,288.3 1179,288.3 L1212,288.3 C1213.8,288.4 1214.8,289.8 1214.9,291.8 L1220.8,386.3 C1220.8,388.2 1219.8,389.2 1218.4,389.2 L1183,388 C1181.5,388 1181,387 1181.2,385.7 L1185.5,383 L1186.5,375.6 C1187.5,374 1189,373.4 1191.3,373.3 L1194.8,373.3 L1188.9,307 C1188.6,306 1187.5,305.6 1186.5,305.6 L1178.3,305.4 C1177,305.3 1176.5,304.5 1176.5,303 Z"/>
<path d="M1189,306.8 C1192,306.6 1195.5,306.8 1197,308.5 L1201.9,373.3"/>
<path d="M1201.3,305.4 L1210.7,305.4 L1214.9,374.5 L1205.4,374.5 Z"/>
<path d="M1201.3,305.4 L1212,322.5 L1203.5,340 L1213.6,357 L1205.4,374.5 M1210.7,305.4 L1202.5,322.5 L1212.6,340 L1204.5,357 L1214.9,374.5" stroke-width="1.15"/>
<circle cx="1203" cy="297.7" r="5.3"/><circle cx="1210.7" cy="382.1" r="5"/></g>
<g stroke="#151515" fill="none" stroke-linejoin="round" stroke-linecap="round" stroke-width="1.4"><path d="M1274.5,408.5 L1256.6,407.2 C1255,406.5 1254.8,405.5 1255.3,404.6 C1257,402.5 1259,401 1260.5,399.5 C1264.5,396 1267,391.5 1268.1,386.7 C1269.5,378 1270.3,369 1270,361.2 C1269.6,355 1269,350 1268.1,345.8 C1267,341 1265.5,338 1263,335.6 C1259.5,332.6 1255,331 1252.8,329.2 C1252,326 1251.8,323 1252.1,320.2 C1264,321.5 1276,323.2 1288.6,323.4 C1301,323.4 1313,321 1325.7,319.6 C1327,319.8 1327.4,321.5 1327,325.3 C1323,328.5 1319.5,331 1316.7,334.3 C1313,339 1310.8,343.5 1309.7,348.4 C1308.2,355 1307.6,361 1307.8,367.5 C1308,374 1308.6,380.5 1309.7,386.7 C1311,391.5 1313.5,395.5 1316.7,398.2 C1318.8,400 1321.2,401.4 1323.8,402.1 L1323.8,406.5 L1301.4,408.5"/>
<path d="M1253.6,330.4 C1258,332.4 1262,335.4 1264.6,339.6 C1267.4,344.5 1268.6,352 1268.8,360 M1325.6,325.8 C1321,329.5 1316.5,334 1313.2,340" stroke-width="1"/>
<ellipse cx="1273.9" cy="334.3" rx="3.2" ry="2.6"/><ellipse cx="1303.9" cy="334.3" rx="3.2" ry="2.6"/>
<ellipse cx="1259.4" cy="404" rx="2.7" ry="2.3"/><ellipse cx="1318" cy="404" rx="2.7" ry="2.3"/>
<path d="M1277.7,356.9 L1278.3,336 C1279,331 1283.5,327.9 1289.2,327.9 C1295,327.9 1299.4,331 1300,336 L1300.1,356.9"/>
<path d="M1271.3,357.3 L1305.9,357.3 L1305.9,402.1 M1271.3,357.3 L1273.4,402.1"/>
<ellipse cx="1287.4" cy="371.6" rx="14.2" ry="12.2"/>
<ellipse cx="1287.4" cy="377.2" rx="6.4" ry="6.6"/>
<path d="M1278.4,399.6 C1279.5,394.5 1283.5,391.8 1288.8,391.8 C1294,391.8 1298.5,394.5 1299.5,399.6"/>
<path d="M1276.4,402.1 C1283,400.6 1293,400.6 1300.1,402.1 M1276.4,402.1 L1276,422.6 M1300.1,402.1 L1300.3,422.6 M1282.4,402 L1282.2,419 M1287.8,401.5 L1287.8,418.5 M1293.2,401.8 L1293.4,419"/>
<ellipse cx="1288" cy="426.4" rx="12.4" ry="8.3"/>
<path d="M1288,418.2 L1288,434.6 M1275.8,426.4 L1300.2,426.4 M1279.2,420.6 L1296.8,432.2 M1279.2,432.2 L1296.8,420.6 M1283.2,418.8 L1292.8,434 M1283.2,434 L1292.8,418.8" stroke-width="0.9"/>
<ellipse cx="1288" cy="426.4" rx="3" ry="2.1" fill="#fdfdfd"/>
<path d="M1305.9,360 C1330,359.8 1355,359.4 1372,358.6 C1375,358.4 1377,357.4 1378.2,355.5 M1305.9,362.4 C1330,362.3 1355,362 1370,361.6 C1375,361.4 1379,360.2 1382,359.3"/>
<path d="M1378.2,355.5 C1383,351 1390,345 1396.7,340.2 C1401,337.4 1406,335.7 1410.5,335.5 C1415,335.3 1418.8,337.3 1418.8,340.5 C1418.6,343 1416.5,345 1413.3,346.2 C1406,349 1399,351.6 1393.3,354 C1389,356 1385.5,357.8 1382,359.3"/>
<path d="M1379.6,357.6 C1384,353.6 1390,349 1396.7,345.4 C1402,342.2 1409,339.3 1416.6,337.6" stroke-width="1.1"/>
<path d="M1393.5,354 L1398,345" stroke-width="1"/></g>
<g stroke="#151515" fill="none" stroke-linejoin="round" stroke-linecap="round" stroke-width="1.45">
<ellipse cx="1296.2" cy="164" rx="8" ry="4.5"/><ellipse cx="1296" cy="163" rx="3.1" ry="1.6"/>
<path d="M1291.3,168 L1301.2,168 L1301.2,185.6 L1291.3,185.6 Z" fill="#111"/>
<path d="M1291.3,185.6 C1291.5,188.8 1293.5,190.6 1296.2,190.6 C1299,190.6 1301,188.8 1301.2,185.6"/></g>
<g stroke="#151515" fill="none" stroke-linejoin="round" stroke-linecap="round" stroke-width="1.1"><path d="M1292,189.6 L1258.7,400.5 M1294.4,190.4 L1274,331.8 M1298.2,190.4 L1303.6,330.8 M1300.6,189.6 L1317.6,400.5"/>
<path d="M1301.2,180.7 L1356.6,180.7 M1269.4,405.4 L1225.6,469.1"/></g>
<g stroke="#151515" fill="none" stroke-linejoin="round" stroke-linecap="round" stroke-width="1.45"><path d="M622.3,702.8 C613,701.5 605,700 599.1,698.4 C596,697 593.6,695 593.1,693 L591.5,658 C591.5,656.5 592.5,655.5 594.5,655.2 C600,653.2 610,653 633.7,652.4 C645,652 660,650.2 669.4,648.9 C671.5,648.8 672.3,650 672.4,652 L673.2,688.7 C673,692.5 672,694.5 670.5,695.2 C660,699 650,700.5 640.2,702.2"/>
<path d="M620.7,693.2 C612,692.5 605,691.5 600.7,689.8 C598.8,688.5 598,686.8 598,685.5 L598.5,662.7 L608,662.6 M656.5,660.8 L664.5,660 L666.2,686.5 C666,688.5 664.5,689.5 662,690.3 C656,691.8 648,692.6 641.3,693.2"/>
<path d="M600.6,664.5 L600.3,686 C601,688.2 604,689.6 610,690.6 L619.8,691.2 M642.2,690.6 C650,689.8 657,688.8 662,687.6 C663.8,687 664.2,686 664.2,684.5 L663,662"/>
<path d="M606.6,658.4 L654.3,656.2 C652,661 648.5,667.5 645.6,674.6 C643,681 641.2,687 640.7,692 L639.4,702 L638.6,709.3 L638.6,739.6 C638.6,740.5 636.5,740.8 632.3,740.8 C628,740.8 626.1,740.5 626.1,739.6 L625.5,709.3 C625,704 623.6,700 621.8,696.3 C619,689 617,682 615.3,675.7 C612.5,669 609.5,663.5 606.6,658.4 Z"/>
<path d="M616.4,663.3 L644.5,662.7 L631.5,696.6 Z"/>
<path d="M620.7,667 L641.3,666.5 L633,692.5 M620.7,667 L629,692.5"/>
<circle cx="631.2" cy="694.6" r="2.4"/></g>
<path d="M663.5,706.6 L670.5,706.6 L670.5,725.5 L673.9,725.5 L667.2,745.6 L659.6,725.5 L663.5,725.5 Z" fill="#0c0c0c"/>
<g stroke="#151515" fill="none" stroke-linejoin="round" stroke-linecap="round" stroke-width="1.45"><path d="M559.2,757.2 L705.6,754.9 C706.5,755 706.8,756 706.4,757.5 C703.5,770 701.5,780 701,790.8 C699,805 697,820 696.5,836.5 L696.5,888.4 C696.3,889.5 695.8,890 695,890 L572.1,892.2 C571.7,892.2 571.4,891.5 571.4,890 L570.6,836.5 C569.5,820 568,805 566,790.8 C564,778 561.5,768 559.2,758.5 Z"/>
<path d="M612.8,767.9 L572,769.3 C570.8,769.4 570.5,770.5 570.6,771.5 C571.5,775 572,779 572.9,783.1 C576,793 579,805 580.5,821.3 L582,876.2 C582,877 582.3,877.7 582.8,877.7 L682.7,877 C683.5,877 684,876 684.2,874.7 C685,855 686,835 688,813.6 C689,798 691,782 694.4,769 C694.8,767.5 694.5,766.4 693.4,766.4 L648.6,766.4"/>
<path d="M612.5,756.4 L650.7,755.7 L644.6,771.7 L620.2,772.5 Z"/>
<circle cx="620.4" cy="764.8" r="1.8"/><circle cx="643" cy="764.6" r="1.8"/>
<path d="M585.9,842.6 C615,845 645,845 676.6,841.1 L682.7,856.4 L678.1,861.7 C650,863 620,864 589.7,863.2 L582,857.9 L582,846.4 Z"/></g>
<path d="M613.5,757 L650,756.3" stroke="#111" stroke-width="2.4"/>
<g stroke="#111" fill="none" stroke-width="2.6" stroke-linecap="round"><path d="M593.5,845.9 C620,849.6 650,849.6 672.8,845.2"/><path d="M590.5,851.2 C620,855 650,855 675.8,850.5"/><path d="M593.5,857.2 C620,860.5 650,860.5 672.8,856.6"/></g>
<g stroke="#151515" fill="none" stroke-linejoin="round" stroke-linecap="round" stroke-width="1.1"><path d="M620.4,764.8 L709.8,843.4 M643,764.6 L711.6,842.2 M706.4,765.6 L730,765.6 M731.5,826 L731.5,850.5 M673.2,661.6 L728.4,661.6"/></g>
<g transform="translate(709.2,843.2) rotate(33.7)" stroke="#151515" stroke-width="1.3" fill="none"><path d="M4,-3.6 C1,-3.6 -0.6,-1.6 -0.6,0 C-0.6,1.6 1,3.6 4,3.6"/><rect x="4" y="-3.6" width="17.5" height="7.2" fill="#111"/><ellipse cx="24.5" cy="0.4" rx="3.6" ry="7" fill="#fdfdfd"/><ellipse cx="25.6" cy="0.6" rx="1.4" ry="2.6"/></g>
<g stroke="#151515" fill="none" stroke-linejoin="round" stroke-linecap="round" stroke-width="1.45"><path d="M910.7,625.7 C908.5,623.6 906,624.5 906.4,627.8 C906.8,630 908.6,631 909.3,632.5 L909.8,655.5 C911,658.5 916,661.5 923,663.6 C930,665.8 937,667.8 940,667.8 C950,667.5 958,666.5 964.2,665 C967,664 967.8,662.8 967.8,660 L969.2,649.3 C969,643 967.5,639.5 965.6,637.8 C963,634.5 960,633.8 957.8,633.6 C950,633.6 943,633.4 937.1,632.8 C927,631 918,628 910.7,625.7 Z"/>
<path d="M910,655 C911,657.5 912.5,658.5 914.3,659.2 C918,661.5 921,663.5 925.7,665 C930,666.8 935,668.5 940,669.2 C950,668.5 958,666.8 965.6,664.2"/>
<path d="M927,666.3 L927.6,668.8 M936.6,668.6 L937,671.4"/>
<path d="M887.9,665 L974.2,673.2 L994.9,747.7"/>
<path d="M887.9,665 C889,670 890.8,678 892.6,686 C894.6,696 896.8,706 898.6,715 C900.4,727 901.8,739 902.6,751"/>
<path d="M889.4,668.2 C891.6,678 894,690 896.4,701 C898.6,712 900.4,725 901.8,737 L903.6,751" stroke-width="1"/>
<path d="M994.7,747.4 L1052,749.3 C1053,749.6 1053,750.6 1052,751 L994.8,749.2" fill="#fdfdfd"/>
<path d="M994.8,749.6 L1050.5,751"/>
<path d="M1049.8,751 L1036,784.4 M1045.6,751.2 L1032.4,783.8"/>
<path d="M1005.8,754.8 L1033.2,756 L1027.6,783.4 M1005.8,754.8 L999.6,779.6 M1002.6,754.9 L996.4,779.6"/>
<path d="M994.8,749 L989.8,774 L991.6,779.5"/>
<path d="M934.3,779.6 L988.5,774.6 C990.5,775.5 991.5,777.5 991.6,779.5"/>
<path d="M934.3,786.3 L991,780.1 C1005,781 1020,782 1028,783.2 C1040,786 1047,789 1052.4,791.6"/>
<path d="M904.8,791.6 C915,795 925,798.5 930.6,801.7 C937,804 943,806 947.8,807.2 L1052.7,791.8 C1056,794 1057.6,797 1057.6,800 L1056.4,809 C1055.5,811 1053,812.5 1050.2,812.8 L956.5,831.3 C955,831.6 953.8,831.2 952.8,830.6 L928.6,821.6"/>
<path d="M947.8,807.2 C950,810 951.2,813.5 951.5,816.5 L953.2,830.4"/>
<path d="M920.2,818.6 L904.7,811.6"/>
<path d="M886.5,753.7 C886,752 889,751.3 898.5,751.6 C915,752.2 930,753 937.4,754.2 L937.4,755.8 C930,756.8 915,757.4 894.8,757.3 C889,757.2 886.7,755.5 886.5,753.7 Z"/>
<path d="M937.4,755.6 L928.7,822.6 L920.1,821.6 L929.3,757.2"/>
<path d="M894.8,757.3 L892.3,780.7 L894.6,782 L895.4,809 L899.4,811.6 M905.9,761 L902.4,809.6 M905.9,761 L928.2,762.2"/>
<path d="M904.2,781.8 L923.2,780 M903.8,787.4 L922.6,785.6"/>
<path d="M927.6,823.8 L924.2,829"/>
<path d="M921,829.5 C923,828 926,828.2 927,830 C927.6,832 926.5,835 924.5,838.5 L918.5,848.5 C916.5,851.5 913,852.6 910.8,851.6 C908.8,850.5 908.8,847.5 910,845 L917.5,833 C918.5,831.3 919.5,830.3 921,829.5 Z"/></g>
<g stroke="#151515" fill="none" stroke-linejoin="round" stroke-linecap="round" stroke-width="1.45"><path d="M955,872.4 L931,870.8 C929.5,870.6 928.8,871.5 928.8,873 L929,876 C929.5,877.3 931,877.5 933,877.2 L943,878.8"/>
<path d="M925.5,884 C924,879.5 926,876.6 930.5,876.3 M935,888.2 C938,887 939,883 938,880"/>
<path d="M976,872.4 L1004,873.4 C1005.5,873.6 1006,874.5 1006,876 L1005.8,879 C1005.5,880 1004.5,880.5 1003,880.5 L992.5,882"/>
<path d="M999,890 C997,886 997.5,882 1000,880.6 M1006,881 C1009.5,883 1010.5,888 1008.5,891.6 C1007,893 1004,893.4 1002,892.6"/>
<path d="M955.2,875.6 L895.2,902.6 C891.5,903.6 889.6,905 889.6,907 L889.8,911 C890,912.5 891.5,913 893,912.6 L907.6,909.4 C920,905 940,897 953,891.8 C955,891 957,891.2 958,891.8"/>
<path d="M957.4,879.4 L896.6,905.6"/>
<path d="M976.5,876.3 L1037.1,909.4 C1039.5,910.5 1040.5,912 1040.5,914 L1040.3,918.5 C1040,920 1039,920.6 1037.5,920.3 L1028,916 C1012,908 995,899 980,893.5 C977.5,892.5 975.5,892.5 973.5,893"/>
<path d="M975,880 L1038.5,913"/>
<path d="M962,880.5 L957.2,943.9 M968.2,880.5 L964.1,943.9"/>
<path d="M957.2,943.9 L957,950 C958.5,951.5 962.5,951.5 964,950 L964.1,943.9 M957.2,945.6 C959.5,946.6 962,946.6 964.1,945.6"/>
<path d="M892,913.2 C893.5,911.2 897.5,910.6 901.5,911.6 C906.2,913 908.2,917.4 907.6,921.4 C907.2,924 905.4,926.4 903.2,927.4"/>
<circle cx="895.8" cy="923.2" r="5.3" stroke-width="2.1"/><circle cx="895.8" cy="923.2" r="2.9" stroke-width="1.1"/>
<path d="M1029.6,921 C1030.5,919.4 1034,918.8 1037.5,919.8 C1041,921 1041.6,925 1040.6,928"/>
<path d="M1027.6,928 C1027,924 1028.2,921.6 1030,920.8"/>
<circle cx="1033.6" cy="930.1" r="5.3" stroke-width="2.1"/><circle cx="1033.6" cy="930.1" r="2.9" stroke-width="1.1"/>
<path d="M957.4,950.4 C958,948.6 961.5,947.8 965.5,948.8 C971,950 974.6,954 973.6,958.6 C973,961.4 971,963 969,963.6"/>
<circle cx="962" cy="959.7" r="5.3" stroke-width="2.1"/><circle cx="962" cy="959.7" r="2.9" stroke-width="1.1"/>
<path d="M957.2,852 C960,850.5 972,850.5 975.1,852 L975.1,876.5 C974,879 970,880 966,880 C962,880 958,879 957.2,876.5 Z" fill="#fdfdfd"/>
<path d="M957.2,854 C960,855.6 972,855.6 975.1,854"/>
<path d="M959.4,852 L959.4,848.6 C962,847.6 970,847.6 973.6,848.6 L973.6,852"/><path d="M962.7,848 L962.7,841.8 C964,841 968,841 969.6,841.8 L969.6,848"/></g>
<g stroke="#151515" fill="none" stroke-linejoin="round" stroke-linecap="round" stroke-width="1.1"><path d="M1044.6,827.6 L1044.7,868"/></g>
<path d="M1042.8,866 L1044.7,872 L1046.6,866 Z" fill="#111"/>
<g stroke="#151515" fill="none" stroke-linejoin="round" stroke-linecap="round" stroke-width="1.45" transform="translate(332,3.5)"><path d="M910.7,625.7 C908.5,623.6 906,624.5 906.4,627.8 C906.8,630 908.6,631 909.3,632.5 L909.8,655.5 C911,658.5 916,661.5 923,663.6 C930,665.8 937,667.8 940,667.8 C950,667.5 958,666.5 964.2,665 C967,664 967.8,662.8 967.8,660 L969.2,649.3 C969,643 967.5,639.5 965.6,637.8 C963,634.5 960,633.8 957.8,633.6 C950,633.6 943,633.4 937.1,632.8 C927,631 918,628 910.7,625.7 Z"/>
<path d="M910,655 C911,657.5 912.5,658.5 914.3,659.2 C918,661.5 921,663.5 925.7,665 C930,666.8 935,668.5 940,669.2 C950,668.5 958,666.8 965.6,664.2"/>
<path d="M927,666.3 L927.6,668.8 M936.6,668.6 L937,671.4"/>
<path d="M887.9,665 L974.2,673.2 L994.9,747.7"/>
<path d="M887.9,665 C889,670 890.8,678 892.6,686 C894.6,696 896.8,706 898.6,715 C900.4,727 901.8,739 902.6,751"/>
<path d="M889.4,668.2 C891.6,678 894,690 896.4,701 C898.6,712 900.4,725 901.8,737 L903.6,751" stroke-width="1"/>
<path d="M994.7,747.4 L1052,749.3 C1053,749.6 1053,750.6 1052,751 L994.8,749.2" fill="#fdfdfd"/>
<path d="M994.8,749.6 L1050.5,751"/>
<path d="M1049.8,751 L1036,784.4 M1045.6,751.2 L1032.4,783.8"/>
<path d="M1005.8,754.8 L1033.2,756 L1027.6,783.4 M1005.8,754.8 L999.6,779.6 M1002.6,754.9 L996.4,779.6"/>
<path d="M994.8,749 L989.8,774 L991.6,779.5"/>
<path d="M934.3,779.6 L988.5,774.6 C990.5,775.5 991.5,777.5 991.6,779.5"/>
<path d="M934.3,786.3 L991,780.1 C1005,781 1020,782 1028,783.2 C1040,786 1047,789 1052.4,791.6"/>
<path d="M904.8,791.6 C915,795 925,798.5 930.6,801.7 C937,804 943,806 947.8,807.2 L1052.7,791.8 C1056,794 1057.6,797 1057.6,800 L1056.4,809 C1055.5,811 1053,812.5 1050.2,812.8 L956.5,831.3 C955,831.6 953.8,831.2 952.8,830.6 L928.6,821.6"/>
<path d="M947.8,807.2 C950,810 951.2,813.5 951.5,816.5 L953.2,830.4"/>
<path d="M920.2,818.6 L904.7,811.6"/>
<path d="M886.5,753.7 C886,752 889,751.3 898.5,751.6 C915,752.2 930,753 937.4,754.2 L937.4,755.8 C930,756.8 915,757.4 894.8,757.3 C889,757.2 886.7,755.5 886.5,753.7 Z"/>
<path d="M937.4,755.6 L928.7,822.6 L920.1,821.6 L929.3,757.2"/>
<path d="M894.8,757.3 L892.3,780.7 L894.6,782 L895.4,809 L899.4,811.6 M905.9,761 L902.4,809.6 M905.9,761 L928.2,762.2"/>
<path d="M904.2,781.8 L923.2,780 M903.8,787.4 L922.6,785.6"/>
<path d="M927.6,823.8 L924.2,829"/>
<path d="M921,829.5 C923,828 926,828.2 927,830 C927.6,832 926.5,835 924.5,838.5 L918.5,848.5 C916.5,851.5 913,852.6 910.8,851.6 C908.8,850.5 908.8,847.5 910,845 L917.5,833 C918.5,831.3 919.5,830.3 921,829.5 Z"/></g>
<g stroke="#151515" fill="none" stroke-linejoin="round" stroke-linecap="round" stroke-width="1.45" transform="translate(339.4,-15.3)"><path d="M955,872.4 L931,870.8 C929.5,870.6 928.8,871.5 928.8,873 L929,876 C929.5,877.3 931,877.5 933,877.2 L943,878.8"/>
<path d="M925.5,884 C924,879.5 926,876.6 930.5,876.3 M935,888.2 C938,887 939,883 938,880"/>
<path d="M976,872.4 L1004,873.4 C1005.5,873.6 1006,874.5 1006,876 L1005.8,879 C1005.5,880 1004.5,880.5 1003,880.5 L992.5,882"/>
<path d="M999,890 C997,886 997.5,882 1000,880.6 M1006,881 C1009.5,883 1010.5,888 1008.5,891.6 C1007,893 1004,893.4 1002,892.6"/>
<path d="M955.2,875.6 L895.2,902.6 C891.5,903.6 889.6,905 889.6,907 L889.8,911 C890,912.5 891.5,913 893,912.6 L907.6,909.4 C920,905 940,897 953,891.8 C955,891 957,891.2 958,891.8"/>
<path d="M957.4,879.4 L896.6,905.6"/>
<path d="M976.5,876.3 L1037.1,909.4 C1039.5,910.5 1040.5,912 1040.5,914 L1040.3,918.5 C1040,920 1039,920.6 1037.5,920.3 L1028,916 C1012,908 995,899 980,893.5 C977.5,892.5 975.5,892.5 973.5,893"/>
<path d="M975,880 L1038.5,913"/>
<path d="M962,880.5 L957.2,943.9 M968.2,880.5 L964.1,943.9"/>
<path d="M957.2,943.9 L957,950 C958.5,951.5 962.5,951.5 964,950 L964.1,943.9 M957.2,945.6 C959.5,946.6 962,946.6 964.1,945.6"/>
<path d="M892,913.2 C893.5,911.2 897.5,910.6 901.5,911.6 C906.2,913 908.2,917.4 907.6,921.4 C907.2,924 905.4,926.4 903.2,927.4"/>
<circle cx="895.8" cy="923.2" r="5.3" stroke-width="2.1"/><circle cx="895.8" cy="923.2" r="2.9" stroke-width="1.1"/>
<path d="M1029.6,921 C1030.5,919.4 1034,918.8 1037.5,919.8 C1041,921 1041.6,925 1040.6,928"/>
<path d="M1027.6,928 C1027,924 1028.2,921.6 1030,920.8"/>
<circle cx="1033.6" cy="930.1" r="5.3" stroke-width="2.1"/><circle cx="1033.6" cy="930.1" r="2.9" stroke-width="1.1"/>
<path d="M957.4,950.4 C958,948.6 961.5,947.8 965.5,948.8 C971,950 974.6,954 973.6,958.6 C973,961.4 971,963 969,963.6"/>
<circle cx="962" cy="959.7" r="5.3" stroke-width="2.1"/><circle cx="962" cy="959.7" r="2.9" stroke-width="1.1"/>
<path d="M957.2,852 C960,850.5 972,850.5 975.1,852 L975.1,876.5 C974,879 970,880 966,880 C962,880 958,879 957.2,876.5 Z" fill="#fdfdfd"/>
<path d="M957.2,854 C960,855.6 972,855.6 975.1,854"/>
<path d="M959.4,852 L959.4,848.6 C962,847.6 970,847.6 973.6,848.6 L973.6,852"/></g>
<g stroke="#151515" fill="none" stroke-linejoin="round" stroke-linecap="round" stroke-width="1.2"><path d="M1312.2,831 L1313.4,845 C1318,846.6 1324,846.4 1328.6,844.6 L1327.6,829.8"/><path d="M1313.5,831.5 L1314.2,844.5 M1315.4,831.6 L1316.1,844.5 M1317.3,831.7 L1318.0,844.5 M1319.2,831.8 L1319.9,844.5 M1321.1,831.9 L1321.8,844.5 M1323.0,832.0 L1323.7,844.5 M1324.9,832.1 L1325.6,844.5 M1326.8,832.2 L1327.5,844.5 " stroke-width="0.8"/></g>
</svg></body></html>
